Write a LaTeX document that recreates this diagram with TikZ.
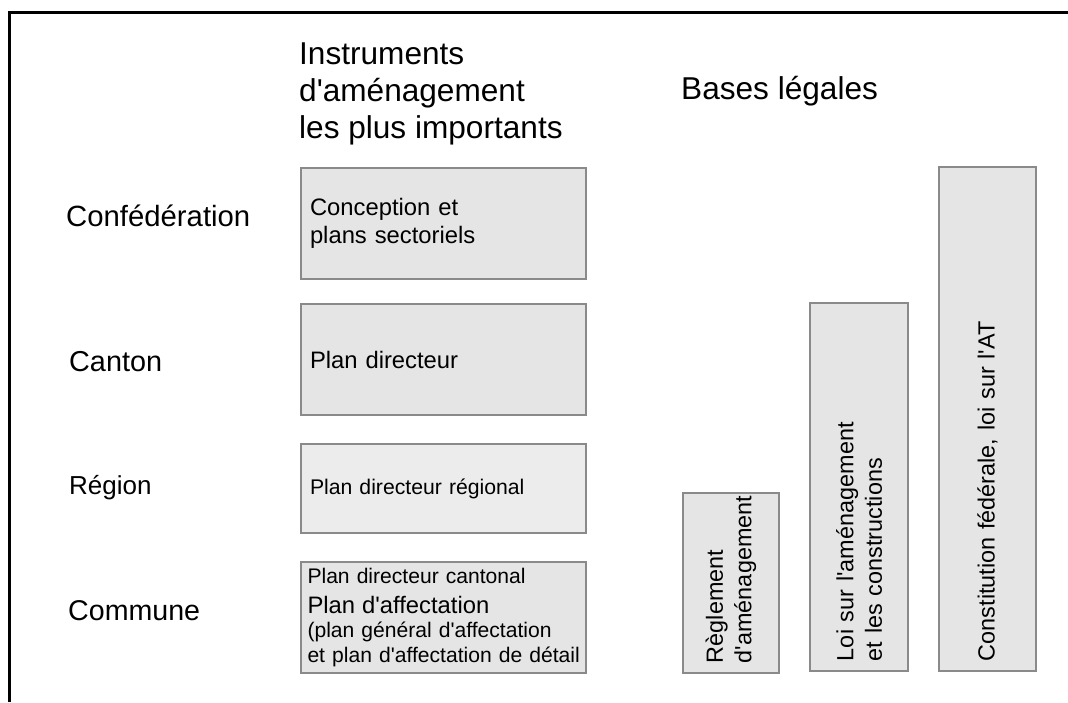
\documentclass[tikz,border=0pt]{standalone}
\usepackage{fontspec}
\newfontfamily\helv{Liberation Sans}

\definecolor{boxfill}{HTML}{E5E5E5}
\definecolor{boxlight}{HTML}{ECECEC}
\definecolor{boxline}{HTML}{8A8A8A}

\tikzset{
  title/.style={anchor=base west, inner sep=0pt, align=left,
    font=\helv\fontsize{31.6}{36.7}\selectfont},
  level/.style={anchor=base west, inner sep=0pt,
    font=\helv\fontsize{28.8}{34}\selectfont},
  plan/.style={draw=boxline, line width=2pt, fill=boxfill, anchor=north west,
    minimum width=285pt, minimum height=111pt, text width=267pt,
    inner xsep=9pt, align=left, font=\helv\fontsize{23.8}{28}\selectfont},
  law/.style={draw=boxline, line width=2pt, fill=boxfill, rotate=90,
    inner xsep=10pt, align=left, font=\helv\fontsize{23.4}{28.5}\selectfont},
}

\begin{document}
\begin{tikzpicture}[x=1pt, y=-1pt]
  \useasboundingbox (0,0) rectangle (1068,702);
  % frame
  \draw[line width=2.5pt] (9.5,702) -- (9.5,12.5) -- (1068,12.5);
  % column titles
  \node[title] (instr) at (299,138) {Instruments\\d'aménagement\\les plus importants};
  \node[title] (bases) at (681,99) {Bases légales};
  % levels
  \node[level, font=\helv\fontsize{29.3}{34}\selectfont] (conf) at (66,226) {Confédération};
  \node[level] (canton) at (69,371) {Canton};
  \node[level, font=\helv\fontsize{26}{30}\selectfont] (region) at (69,494) {Région};
  \node[level, font=\helv\fontsize{28.6}{34}\selectfont] (commune) at (68,620) {Commune};
  % instruments
  \node[plan] (concept) at (300,167) {Conception et\\plans sectoriels};
  \node[plan] (pdc) at (300,303) {Plan directeur};
  \node[plan, fill=boxlight, minimum height=89pt,
    font=\helv\fontsize{21.2}{25}\selectfont] (pdr) at (300,443) {Plan directeur régional};
  \node[plan, text width=272pt, inner xsep=6.5pt,
    font=\helv\fontsize{21.1}{24.5}\selectfont] (paff) at (300,561)
    {Plan directeur cantonal\\[5.5pt]
     {\fontsize{23.8}{24.5}\selectfont Plan d'affectation}\\
     (plan général d'affectation\\
     \mbox{et plan d'affectation de détail}};
  % legal bases
  \node[law, minimum width=180pt, minimum height=96pt, text width=160pt]
    (regl) at (731,583) {Règlement\\d'aménagement};
  \node[law, minimum width=368pt, minimum height=98pt, text width=348pt]
    (lat) at (859,487) {Loi sur l'aménagement\\et les constructions};
  \node[law, minimum width=504pt, minimum height=97pt, text width=484pt]
    (const) at (987.5,419) {Constitution fédérale, loi sur l'AT};
\end{tikzpicture}
\end{document}
